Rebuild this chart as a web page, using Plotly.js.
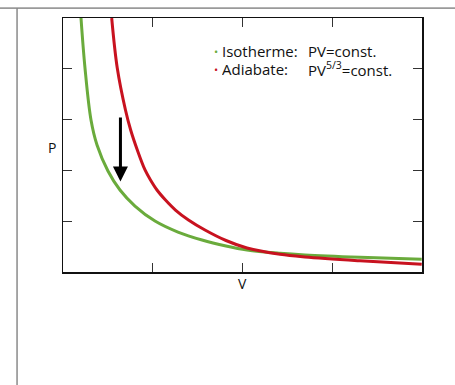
<!DOCTYPE html>
<html>
<head>
<meta charset="utf-8">
<script src="https://cdn.plot.ly/plotly-3.0.1.min.js"></script>
<style>
  html, body { margin: 0; padding: 0; background: #fff; }
  #chart { width: 455px; height: 385px; }
</style>
</head>
<body>
<div id="chart"></div>
<script>
// Isotherm (PV = const.) sampled along the curve
const isoV = [0.2006, 0.245, 0.312, 0.379, 0.501, 0.635, 0.802, 1.025, 1.281, 1.549, 1.816, 2.050, 2.418, 2.696, 3.309, 3.997];
const isoP = [5.000, 4.016, 2.992, 2.500, 1.988, 1.614, 1.299, 1.004, 0.787, 0.630, 0.512, 0.433, 0.368, 0.335, 0.289, 0.250];

// Adiabat (PV^5/3 = const.)
const adiV = [0.5426, 0.605, 0.696, 0.754, 0.828, 0.914, 0.975, 1.047, 1.142, 1.253, 1.398, 1.582, 1.816, 2.050, 2.418, 2.696, 3.309, 3.997];
const adiP = [5.000, 4.010, 3.189, 2.795, 2.402, 2.008, 1.811, 1.614, 1.417, 1.220, 1.024, 0.827, 0.620, 0.472, 0.348, 0.295, 0.220, 0.152];

// Arrow showing the pressure drop at fixed volume
const arrowV = 0.64;
const arrowFrom = 3.07;
const arrowTo = 1.78;

const legendLabels = ['Isotherme:', 'Adiabate:'];
const legendFormulas = ['PV=const.', 'PV<sup>5/3</sup>=const.'];

const green = '#6aab3c';
const red = '#c8121f';
const font = 'Open Sans';
const ink = '#111';

const traces = [
  { x: isoV, y: isoP, mode: 'lines', line: { color: green, width: 3, shape: 'spline', smoothing: 1 }, hoverinfo: 'skip' },
  { x: adiV, y: adiP, mode: 'lines', line: { color: red, width: 3, shape: 'spline', smoothing: 1 }, hoverinfo: 'skip' }
];

const axisBase = {
  showgrid: false, zeroline: false, showticklabels: false,
  ticks: 'inside', ticklen: 9, tickwidth: 1.3, tickcolor: '#333',
  showline: true, linecolor: '#111', linewidth: 1.5, mirror: 'ticks',
  fixedrange: true
};

const colors = [green, red];
const rowY = [0.870, 0.799];
const annotations = [];
legendLabels.forEach((lab, i) => {
  annotations.push({
    xref: 'paper', yref: 'paper', x: 0.426, y: rowY[i], xanchor: 'center', yanchor: 'middle',
    showarrow: false, text: '•', borderpad: 0, borderwidth: 0, font: { family: font, size: 11, color: colors[i] }
  });
  annotations.push({
    xref: 'paper', yref: 'paper', x: 0.4435, y: rowY[i], xanchor: 'left', yanchor: 'middle',
    showarrow: false, text: lab, borderpad: 0, borderwidth: 0, height: 16, valign: 'middle',
    font: { family: font, size: 15, color: ink }
  });
  annotations.push({
    xref: 'paper', yref: 'paper', x: 0.6815, y: rowY[i], xanchor: 'left', yanchor: 'middle',
    showarrow: false, text: legendFormulas[i], borderpad: 0, borderwidth: 0, height: 16, valign: 'middle',
    font: { family: font, size: 15, color: ink }
  });
});
// Axis names
annotations.push({
  xref: 'paper', yref: 'paper', x: -0.031, y: 0.492, xanchor: 'center', yanchor: 'middle',
  showarrow: false, text: 'P', font: { family: font, size: 14, color: ink }
});
annotations.push({
  xref: 'paper', yref: 'paper', x: 0.501, y: -0.047, xanchor: 'center', yanchor: 'middle',
  showarrow: false, text: 'V', font: { family: font, size: 14, color: ink }
});
annotations.push({
  x: arrowV, y: arrowTo, ax: arrowV, ay: arrowFrom, xref: 'x', yref: 'y', axref: 'x', ayref: 'y',
  text: '', showarrow: true, arrowhead: 2, arrowsize: 1, arrowwidth: 3, arrowcolor: '#000', standoff: 0
});

const layout = {
  width: 455, height: 385,
  margin: { l: 63, r: 33, t: 18, b: 113 },
  paper_bgcolor: '#fff', plot_bgcolor: '#fff',
  showlegend: false,
  xaxis: Object.assign({}, axisBase, { range: [0, 4], tickvals: [1, 2, 3] }),
  yaxis: Object.assign({}, axisBase, { range: [0, 5], tickvals: [1, 2, 3, 4] }),
  annotations: annotations,
  shapes: [
    { type: 'line', xref: 'paper', yref: 'paper', x0: -0.2, x1: 1.1, y0: 1.039, y1: 1.039, line: { color: '#9a9a9a', width: 1.6 } },
    { type: 'line', xref: 'paper', yref: 'paper', x0: -0.128, x1: -0.128, y0: 1.039, y1: -0.46, line: { color: '#8a8a8a', width: 1.5 } }
  ]
};

Plotly.newPlot('chart', traces, layout, { staticPlot: true, displayModeBar: false });
</script>
</body>
</html>
